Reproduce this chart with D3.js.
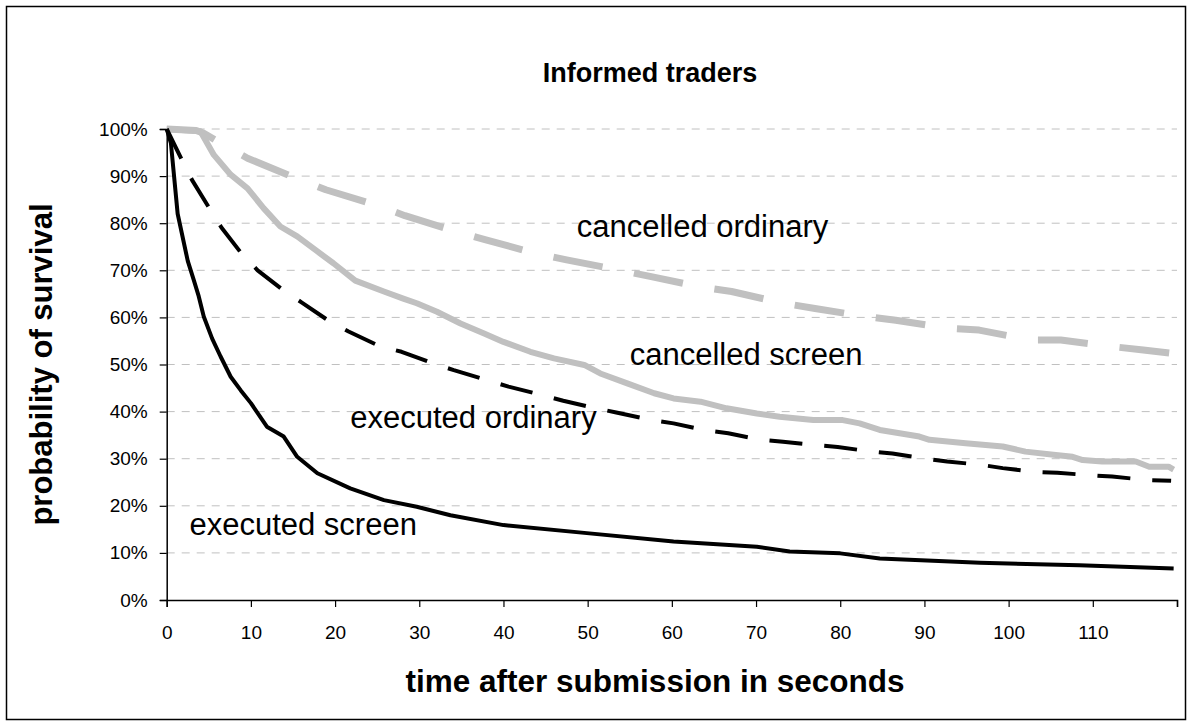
<!DOCTYPE html>
<html>
<head>
<meta charset="utf-8">
<script src="https://cdn.jsdelivr.net/npm/d3@7"></script>
<style>
  body { margin: 0; background: #fff; }
  text { font-family: "Liberation Sans", Arial, sans-serif; }
</style>
</head>
<body>
<svg id="chart" width="1192" height="726"></svg>
<script>
// ---- data ----
var execScreenT = [0, 0.5, 1.3, 2.5, 3.2, 3.8, 4.4, 5.4, 6.4, 7.6, 8.8, 10, 11.9, 13.9, 15.5, 17.9, 21.8, 25.8, 29.7, 33.7, 40, 49.9, 60.2, 70.1, 74, 80, 84.7, 96.6, 108.4, 119.6];
var execScreenV = [100, 97, 82, 72, 68, 64.5, 60.2, 55.5, 51.7, 47.4, 44.5, 41.8, 36.8, 34.7, 30.4, 26.9, 23.7, 21.2, 19.8, 18, 15.9, 14.2, 12.4, 11.3, 10.3, 9.9, 8.8, 7.9, 7.4, 6.7];

var execOrdT = [0, 1.9, 3.0, 5.2, 6.5, 9.0, 10.8, 13.9, 16.1, 19.4, 21.6, 25.4, 27.9, 31.7, 34.1, 38, 40.6, 44.6, 47.1, 51, 53.4, 57.6, 60.2, 64.1, 66.7, 70.6, 73.2, 77.1, 79.7, 83.7, 86.2, 90.2, 92.7, 96.7, 99.3, 103.2, 105.8, 109.7, 112.3, 116.3, 119.3];
var execOrdV = [100, 93.1, 89.2, 82.8, 79.1, 73.3, 70, 65.7, 63.1, 59.1, 57, 53.8, 52.7, 50.2, 48.8, 46.7, 45.3, 43.5, 42.3, 40.7, 39.8, 38.2, 37.5, 36, 35.4, 34, 33.6, 32.9, 32.5, 31.5, 31.1, 30, 29.4, 28.7, 28, 27.2, 27, 26.5, 26.2, 25.5, 25.3];

var cancScreenT = [0, 4, 5.6, 7.6, 9.6, 11.5, 13.5, 15.5, 17.9, 19.8, 22.4, 25.8, 28.1, 29.7, 32.1, 34.9, 37.7, 40, 43.2, 46, 49.6, 51.5, 54.7, 57.9, 60.2, 63.4, 66.5, 70.1, 72.8, 76.8, 80.3, 82.3, 84.7, 89.4, 90.6, 94.9, 99.3, 102, 105.6, 107.6, 108.8, 111.1, 115.1, 116.7, 119, 119.6];
var cancScreenV = [100, 99.5, 94.5, 90.3, 87.4, 83.2, 79.3, 77.2, 74, 71.5, 67.8, 65.5, 64, 63, 61.2, 58.7, 56.6, 54.8, 52.7, 51.3, 49.9, 48.1, 46, 43.9, 42.8, 42.1, 40.7, 39.6, 38.9, 38.2, 38.2, 37.5, 36.1, 34.7, 34, 33.3, 32.6, 31.5, 30.8, 30.4, 29.7, 29.4, 29.4, 28.3, 28.3, 27.7];

var cancOrdT = [0, 3.5, 4.4, 6.4, 9.6, 15.3, 18.9, 24.8, 28.3, 33.7, 37.8, 43.8, 47.5, 53.6, 57.4, 63.3, 67.1, 73.2, 77, 82.9, 86.6, 92.7, 96.5, 102.6, 106.2, 112.3, 116, 119.3];
var cancOrdV = [100, 99.7, 99.1, 97, 93.8, 89.6, 87.1, 83.9, 81.6, 78.6, 76.5, 73.6, 72.2, 70.1, 68.7, 66.5, 65.5, 63, 61.9, 60.2, 59.4, 57.7, 57.3, 55.2, 55.2, 53.8, 53.1, 52.4];

var xTicks = [0, 10, 20, 30, 40, 50, 60, 70, 80, 90, 100, 110, 120];
var yTicks = [0, 10, 20, 30, 40, 50, 60, 70, 80, 90, 100];

var labelNames = ["cancelled ordinary", "cancelled screen", "executed ordinary", "executed screen"];
var labelT = [48.7, 55, 21.8, 2.7];
var labelV = [77.1, 49.9, 36.5, 13.8];

(function () {
  // ---- layout ----
  var W = 1192, H = 726;
  var mLeft = 166.7, mRight = 1177, mTop = 129, mBottom = 600;

  var svg = d3.select("#chart");

  // outer frame
  svg.append("rect")
    .attr("x", 6.5).attr("y", 6.5)
    .attr("width", W - 13).attr("height", H - 13)
    .attr("fill", "#fff").attr("stroke", "#000").attr("stroke-width", 1.5);

  var x = d3.scaleLinear().domain([0, 120]).range([mLeft, mRight]);
  var y = d3.scaleLinear().domain([0, 100]).range([mBottom, mTop]);

  // gridlines
  svg.append("g")
    .selectAll("line")
    .data(yTicks.filter(function (d) { return d > 0; }))
    .join("line")
    .attr("x1", mLeft).attr("x2", mRight)
    .attr("y1", function (d) { return y(d); })
    .attr("y2", function (d) { return y(d); })
    .attr("stroke", "#c0c0c0")
    .attr("stroke-width", 1)
    .attr("stroke-dasharray", "8,7");

  // axes
  var xAxis = svg.append("g")
    .attr("transform", "translate(0," + mBottom + ")")
    .call(d3.axisBottom(x)
      .tickValues(xTicks)
      .tickSize(7)
      .tickPadding(19)
      .tickFormat(function (d) { return d < 120 ? d : ""; }));

  var yAxis = svg.append("g")
    .attr("transform", "translate(" + mLeft + ",0)")
    .call(d3.axisLeft(y)
      .tickValues(yTicks)
      .tickSize(7)
      .tickPadding(12)
      .tickFormat(function (d) { return d + "%"; }));

  [xAxis, yAxis].forEach(function (g) {
    g.selectAll("path.domain").attr("stroke", "#000").attr("stroke-width", 1.5);
    g.selectAll(".tick line").attr("stroke", "#000").attr("stroke-width", 1.2);
    g.selectAll(".tick text")
      .attr("fill", "#000")
      .style("font-family", "'Liberation Sans', Arial, sans-serif")
      .style("font-size", "19px");
  });

  // series
  var line = d3.line()
    .x(function (d) { return x(d[0]); })
    .y(function (d) { return y(d[1]); });

  function pts(t, v) { return t.map(function (d, i) { return [d, v[i]]; }); }

  var series = [
    { data: pts(cancOrdT, cancOrdV), color: "#c0c0c0", width: 7, dash: "50,32" },
    { data: pts(cancScreenT, cancScreenV), color: "#c0c0c0", width: 6, dash: null },
    { data: pts(execOrdT, execOrdV), color: "#000", width: 4, dash: "33,22" },
    { data: pts(execScreenT, execScreenV), color: "#000", width: 4, dash: null }
  ];

  svg.append("g")
    .selectAll("path")
    .data(series)
    .join("path")
    .attr("d", function (d) { return line(d.data); })
    .attr("fill", "none")
    .attr("stroke", function (d) { return d.color; })
    .attr("stroke-width", function (d) { return d.width; })
    .attr("stroke-linejoin", "round")
    .attr("stroke-dasharray", function (d) { return d.dash; });

  // series labels
  svg.append("g")
    .selectAll("text")
    .data(labelNames)
    .join("text")
    .attr("x", function (d, i) { return x(labelT[i]); })
    .attr("y", function (d, i) { return y(labelV[i]); })
    .style("font-size", "31px")
    .attr("fill", "#000")
    .text(function (d) { return d; });

  // titles
  svg.append("text")
    .attr("x", 650).attr("y", 82)
    .attr("text-anchor", "middle")
    .style("font-size", "27px").style("font-weight", "bold")
    .text("Informed traders");

  svg.append("text")
    .attr("x", 655).attr("y", 692)
    .attr("text-anchor", "middle")
    .style("font-size", "31.5px").style("font-weight", "bold")
    .text("time after submission in seconds");

  svg.append("text")
    .attr("transform", "translate(52," + ((mTop + mBottom) / 2) + ") rotate(-90)")
    .attr("text-anchor", "middle")
    .style("font-size", "31px").style("font-weight", "bold")
    .text("probability of survival");
})();
</script>
</body>
</html>
